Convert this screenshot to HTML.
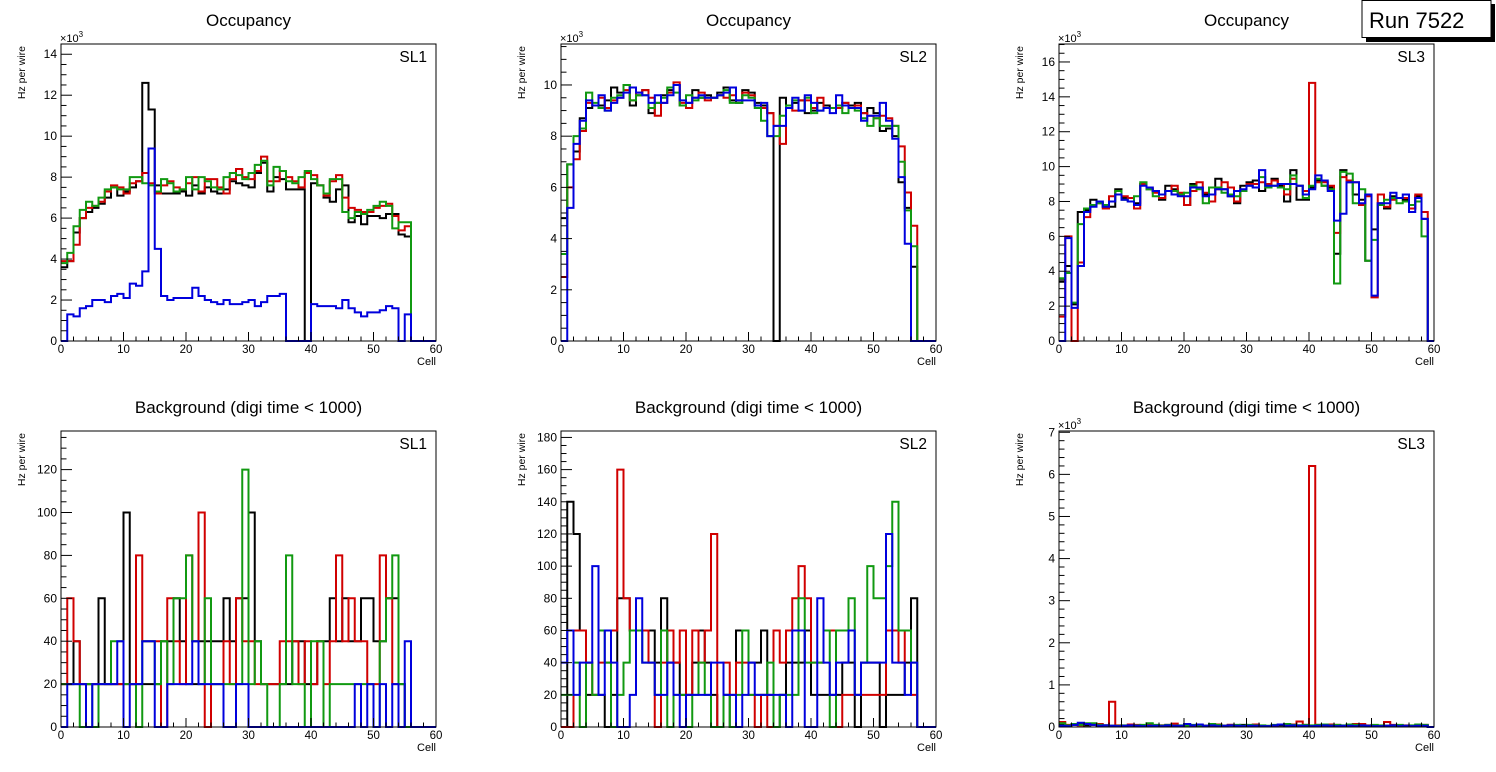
<!DOCTYPE html>
<html><head><meta charset="utf-8">
<style>
html,body{margin:0;padding:0;background:#fff;}
body{width:1496px;height:772px;overflow:hidden;position:relative;font-family:"Liberation Sans",Arial,sans-serif;}
svg{position:absolute;left:0;top:0;}
</style></head>
<body>
<svg id="chart" width="1496" height="772" viewBox="0 0 1496 772" xmlns="http://www.w3.org/2000/svg"></svg>
<script>
const cells = Array.from({length:60},(_,i)=>i);
const occSL1Black=[3.6,3.9,5.3,6.0,6.3,6.5,6.7,7.0,7.5,7.1,7.3,7.5,7.8,12.6,11.3,7.6,7.2,7.2,7.2,7.3,7.1,7.6,7.2,7.5,7.3,7.2,7.4,7.8,7.7,7.6,7.5,8.2,8.7,7.3,8.0,7.9,7.4,7.4,7.4,0,7.7,7.6,7.0,6.8,7.4,7.6,5.8,6.1,5.7,6.1,6.1,6.0,6.2,6.2,5.2,5.1,0,0,0,0];
const occSL1Red=[3.9,3.9,4.7,6.0,6.5,6.6,6.8,7.3,7.6,7.5,7.2,7.7,7.8,8.2,7.7,7.2,7.6,7.8,7.5,7.4,7.7,8.0,7.3,7.9,7.9,7.5,7.2,7.9,8.4,8.0,7.9,8.3,9.0,7.8,7.8,8.3,8.0,7.8,7.5,8.2,8.1,7.6,7.1,7.8,8.1,7.0,6.5,6.4,6.3,6.3,6.5,6.6,6.7,6.1,5.4,5.6,0,0,0,0];
const occSL1Green=[3.8,4.3,5.6,6.4,6.8,6.6,7.0,7.4,7.5,7.4,7.4,8.0,8.0,7.7,7.6,7.3,7.9,7.7,7.3,7.4,8.0,7.4,8.0,7.8,7.5,7.4,8.0,8.2,8.1,7.9,8.2,8.6,8.8,7.6,8.5,8.3,7.8,7.7,8.0,8.3,7.9,7.6,7.2,7.9,7.9,6.3,6.0,6.3,6.2,6.4,6.6,6.8,6.6,5.5,5.8,5.8,0,0,0,0];
const occSL1Blue=[0,1.3,1.2,1.6,1.7,2.0,2.0,1.9,2.2,2.3,2.1,2.8,2.7,3.4,9.4,4.5,2.2,2.0,2.1,2.1,2.1,2.6,2.2,2.0,1.9,1.8,2.0,1.8,1.8,1.9,2.0,1.7,1.9,2.2,2.2,2.3,0,0,0,0,1.8,1.7,1.7,1.7,1.6,2.0,1.6,1.4,1.2,1.4,1.4,1.5,1.7,1.6,0,1.3,0,0,0,0];
const occSL2Black=[4.8,6.9,7.4,8.7,9.1,9.2,9.2,9.4,9.9,9.7,10.0,9.2,9.6,9.8,8.9,9.3,9.6,9.8,10.0,9.2,9.3,9.8,9.5,9.6,9.5,9.7,9.9,9.4,9.3,9.8,9.7,9.3,9.2,8.9,0,9.5,9.1,9.3,9.4,8.9,9.0,9.3,9.2,9.1,9.1,9.3,9.2,9.3,8.9,9.1,8.9,8.2,8.3,8.0,6.2,5.2,2.9,0,0,0];
const occSL2Red=[2.5,6.0,7.1,8.2,9.3,9.2,9.5,9.1,9.4,9.5,9.8,9.4,9.7,9.8,9.5,8.8,9.3,9.7,10.1,9.3,9.1,9.5,9.7,9.4,9.5,9.6,9.5,9.6,9.4,9.7,9.6,9.2,9.1,8.9,8.4,7.7,9.2,9.0,9.4,9.4,9.1,9.5,9.1,9.1,9.1,9.3,9.1,9.2,8.9,8.8,8.7,8.8,8.7,8.4,7.6,5.8,4.5,0,0,0];
const occSL2Green=[3.4,6.9,8.0,8.3,9.7,9.3,9.1,9.0,9.5,9.6,10.0,9.4,9.6,9.6,9.1,9.3,9.5,9.9,9.7,9.2,9.6,9.4,9.5,9.5,9.5,9.6,9.8,9.3,9.3,9.6,9.5,9.1,8.6,8.0,8.0,8.8,9.2,9.4,9.0,9.5,8.9,9.0,9.1,9.1,9.2,8.9,9.1,9.0,8.7,8.4,8.7,8.4,8.4,8.4,7.0,5.1,3.7,0,0,0];
const occSL2Blue=[0,5.2,7.7,8.6,9.4,9.2,9.6,9.0,9.3,9.5,9.7,9.9,9.7,9.6,9.3,9.6,9.3,9.6,10.0,9.4,9.3,9.5,9.6,9.5,9.5,9.6,9.7,9.9,9.4,9.4,9.4,9.2,9.3,8.0,8.4,8.4,9.1,9.5,9.0,9.6,9.3,9.0,9.1,8.9,9.6,9.2,9.1,9.1,8.6,8.8,8.8,9.3,8.6,7.9,6.4,3.8,0,0,0,0];
const occSL3Black=[3.4,4.3,2.1,7.4,7.5,8.1,8.0,7.7,7.7,8.7,8.2,8.2,7.9,9.0,8.7,8.6,8.1,8.9,8.7,8.4,7.8,9.0,8.8,8.4,8.4,9.3,8.7,8.3,7.9,8.9,9.1,9.2,8.6,9.0,9.3,8.9,8.0,9.8,8.1,8.1,8.8,9.2,8.9,8.8,5.0,9.8,9.1,8.4,8.1,4.6,6.4,7.9,7.6,8.3,8.2,8.1,7.6,8.3,7.0,0];
const occSL3Red=[1.4,6.0,0,4.5,7.1,7.8,7.9,7.6,8.3,8.6,8.3,8.2,7.6,9.0,8.8,8.5,8.2,8.6,8.9,8.5,7.8,8.6,9.1,8.5,8.0,8.7,9.1,8.8,8.0,8.6,9.0,9.0,9.1,9.0,9.2,9.0,8.4,9.3,8.9,8.6,14.8,9.1,9.1,8.9,6.2,9.4,9.2,9.1,7.8,8.3,2.5,8.4,7.7,8.1,8.2,8.2,7.6,8.4,7.4,0];
const occSL3Green=[3.6,3.9,2.2,6.7,7.6,7.8,7.9,7.8,8.0,8.6,8.1,8.0,8.3,9.1,8.7,8.3,8.4,8.6,8.6,8.4,8.5,8.9,8.7,7.9,8.8,8.8,8.5,8.4,8.3,8.6,8.9,8.8,9.4,8.8,8.9,8.8,8.7,9.5,8.9,8.2,8.9,9.3,8.9,8.7,3.3,9.7,9.6,7.9,8.7,4.6,5.8,7.8,8.1,8.2,7.9,8.0,7.8,8.0,6.0,0];
const occSL3Blue=[0,5.9,1.9,4.3,7.4,7.7,8.0,7.7,8.0,8.4,8.1,8.0,7.8,8.9,8.8,8.6,8.4,8.6,8.4,8.3,8.3,8.8,8.8,8.3,8.4,8.7,8.7,8.3,8.6,8.7,8.9,8.8,9.8,8.9,8.9,9.0,9.0,9.0,8.9,8.4,8.7,9.5,9.2,8.6,6.9,7.3,9.1,9.1,7.9,8.4,2.6,7.9,7.9,8.5,8.2,8.4,7.4,8.2,7.0,0];
const bgSL1Black=[20,20,40,20,20,20,60,20,20,20,100,20,20,20,20,20,40,40,60,40,20,20,40,40,40,40,60,40,60,60,100,40,20,20,20,20,20,40,40,20,20,40,40,60,40,60,40,40,60,60,40,40,60,60,20,0,0,0,0,0];
const bgSL1Red=[20,60,40,20,20,20,20,20,20,20,20,20,80,40,40,40,0,60,40,20,80,40,100,0,20,20,40,20,60,40,40,20,20,20,20,40,40,40,20,40,20,40,20,40,80,40,60,40,40,20,20,80,60,20,0,0,0,0,0,0];
const bgSL1Green=[20,20,20,0,20,0,20,20,40,40,20,20,0,40,40,20,40,20,60,60,80,40,20,60,20,20,20,20,20,120,20,40,20,0,0,20,80,20,20,0,40,40,0,20,20,20,20,20,20,20,0,40,60,80,20,0,0,0,0,0];
const bgSL1Blue=[0,20,20,20,0,20,20,20,20,40,0,20,20,40,40,0,0,20,20,20,20,40,20,20,20,20,0,0,20,20,0,0,0,0,0,0,0,0,0,0,0,0,0,0,0,0,0,20,0,20,0,20,0,20,0,40,0,0,0,0];
const bgSL2Black=[0,140,120,60,20,20,20,0,20,80,80,60,60,60,60,40,80,40,40,20,20,40,60,40,20,0,20,0,60,60,40,40,60,20,0,20,40,40,40,60,20,20,20,20,20,40,40,0,40,40,40,0,20,20,20,40,80,0,0,0];
const bgSL2Red=[0,0,60,60,40,20,40,40,60,160,80,60,60,60,40,0,40,60,40,60,20,60,40,60,120,0,40,20,40,40,20,0,20,0,60,40,60,80,100,80,40,40,60,60,0,20,20,20,20,20,20,20,60,60,40,60,20,0,0,0];
const bgSL2Green=[20,20,40,0,40,20,60,40,0,20,40,60,60,40,40,20,60,0,20,20,0,20,40,20,0,0,20,0,20,60,20,20,20,40,0,20,20,20,80,40,40,40,60,0,60,60,80,20,40,100,80,80,100,140,60,60,40,0,0,0];
const bgSL2Blue=[40,60,20,40,40,100,20,60,40,0,0,20,80,40,40,20,20,40,20,0,20,20,20,20,40,40,20,20,0,20,40,20,20,20,20,20,0,60,60,0,0,80,40,20,40,40,60,20,40,40,40,40,120,40,40,20,40,0,0,0];
const bgSL3Black=[0.05,0.03,0.05,0.06,0.04,0.05,0.03,0.04,0.03,0.03,0.03,0.02,0.03,0.03,0.04,0.02,0.04,0.03,0.03,0.02,0.03,0.03,0.02,0.03,0.03,0.04,0.03,0.05,0.03,0.05,0.03,0.03,0.02,0.02,0.03,0.04,0.05,0.03,0.04,0.03,0.03,0.03,0.04,0.03,0.02,0.03,0.03,0.02,0.04,0.03,0.03,0.02,0.03,0.03,0.02,0.03,0.03,0.03,0.03,0];
const bgSL3Red=[0.12,0.05,0.07,0.04,0.08,0.05,0.07,0.04,0.6,0.04,0.02,0.06,0.05,0.04,0.06,0.04,0.03,0.05,0.08,0.03,0.02,0.04,0.05,0.03,0.03,0.06,0.03,0.05,0.04,0.02,0.04,0.06,0.03,0.02,0.04,0.06,0.04,0.06,0.13,0.05,6.2,0.05,0.04,0.06,0.05,0.03,0.04,0.07,0.07,0.04,0.03,0.03,0.12,0.05,0.03,0.04,0.03,0.05,0.05,0];
const bgSL3Green=[0.09,0.04,0.07,0.05,0.09,0.09,0.05,0.04,0.03,0.03,0.04,0.03,0.04,0.05,0.09,0.05,0.03,0.05,0.03,0.04,0.03,0.05,0.04,0.03,0.07,0.05,0.03,0.04,0.05,0.03,0.05,0.04,0.04,0.03,0.05,0.06,0.07,0.05,0.04,0.05,0.04,0.05,0.06,0.04,0.05,0.04,0.06,0.05,0.04,0.03,0.05,0.04,0.03,0.04,0.05,0.03,0.04,0.06,0.05,0];
const bgSL3Blue=[0.03,0.02,0.05,0.1,0.07,0.05,0.03,0.04,0.03,0.02,0.03,0.04,0.03,0.02,0.03,0.03,0.02,0.04,0.03,0.03,0.07,0.04,0.06,0.03,0.04,0.02,0.03,0.04,0.03,0.02,0.03,0.03,0.02,0.02,0.04,0.06,0.03,0.04,0.03,0.03,0.02,0.03,0.04,0.03,0.02,0.03,0.03,0.02,0.04,0.03,0.02,0.02,0.03,0.04,0.02,0.03,0.02,0.03,0.03,0];

const xTicks=[0,10,20,30,40,50,60];
const panels=[
 {name:'occupancy-sl1',title:'Occupancy',sl:'SL1',x0:61,x1:436,y0:44,y1:341,ymax:14.5,major:2,minor:0.5,exp:true,series:[occSL1Black,occSL1Red,occSL1Green,occSL1Blue]},
 {name:'occupancy-sl2',title:'Occupancy',sl:'SL2',x0:561,x1:936,y0:44,y1:341,ymax:11.6,major:2,minor:0.5,exp:true,series:[occSL2Black,occSL2Red,occSL2Green,occSL2Blue]},
 {name:'occupancy-sl3',title:'Occupancy',sl:'SL3',x0:1059,x1:1434,y0:44,y1:341,ymax:17.03,major:2,minor:0.5,exp:true,series:[occSL3Black,occSL3Red,occSL3Green,occSL3Blue]},
 {name:'background-sl1',title:'Background (digi time < 1000)',sl:'SL1',x0:61,x1:436,y0:431,y1:727,ymax:138,major:20,minor:5,exp:false,series:[bgSL1Black,bgSL1Red,bgSL1Green,bgSL1Blue]},
 {name:'background-sl2',title:'Background (digi time < 1000)',sl:'SL2',x0:561,x1:936,y0:431,y1:727,ymax:184,major:20,minor:5,exp:false,series:[bgSL2Black,bgSL2Red,bgSL2Green,bgSL2Blue]},
 {name:'background-sl3',title:'Background (digi time < 1000)',sl:'SL3',x0:1059,x1:1434,y0:431,y1:727,ymax:7.03,major:1,minor:0.2,exp:true,series:[bgSL3Black,bgSL3Red,bgSL3Green,bgSL3Blue]}
];
const colors=['#000000','#d00000','#119911','#0000dd'];
const colorNames=['black','red','green','blue'];
const NS='http://www.w3.org/2000/svg';
const svg=document.getElementById('chart');
function mk(tag,attrs,parent){const e=document.createElementNS(NS,tag);for(const k in attrs)e.setAttribute(k,attrs[k]);(parent||svg).appendChild(e);return e;}
function txt(s,attrs,parent){const e=mk('text',attrs,parent);e.textContent=s;return e;}

panels.forEach(p=>{
  const g=mk('g',{});
  
  
  const xs=v=>p.x0+(v/60)*(p.x1-p.x0);
  const ys=v=>p.y1-(v/p.ymax)*(p.y1-p.y0);
  const cx=(p.x0+p.x1)/2;
  const t=txt(p.title,{x:cx,y:p.y0-18,'text-anchor':'middle','font-size':17},g);
  
  
  p.series.forEach((arr,si)=>{
    let d='M'+xs(0)+','+ys(arr[0]);
    for(let i=0;i<arr.length;i++){
      if(i>0)d+=' V'+ys(arr[i]);
      d+=' H'+xs(cells[i]+1);
    }
    const path=mk('path',{d:d,fill:'none',stroke:colors[si],'stroke-width':2,'stroke-linejoin':'miter'},g);
    
    
  });
  const fr=mk('rect',{x:p.x0,y:p.y0,width:p.x1-p.x0,height:p.y1-p.y0,fill:'none',stroke:'#000','stroke-width':1},g);
  
  
  for(let v=0;v<=60;v+=2){
    const L=(v%10===0)?9:4.5;
    mk('line',{x1:xs(v),x2:xs(v),y1:p.y1,y2:p.y1-L,stroke:'#000','stroke-width':1},g);
  }
  xTicks.forEach(v=>{
    const l=txt(String(v),{x:xs(v),y:p.y1+12,'text-anchor':'middle','font-size':11.5},g);
    
    
  });
  const xl=txt('Cell',{x:p.x1,y:p.y1+24,'text-anchor':'end','font-size':11},g);
  
  
  const nMin=Math.floor(p.ymax/p.minor+1e-6);
  for(let k=0;k<=nMin;k++){
    const v=k*p.minor;
    const isMaj=Math.abs(v/p.major-Math.round(v/p.major))<1e-6;
    mk('line',{x1:p.x0,x2:p.x0+(isMaj?11:5.5),y1:ys(v),y2:ys(v),stroke:'#000','stroke-width':1},g);
    if(isMaj){
      const l=txt(String(Math.round(v)),{x:p.x0-4,y:ys(v)+4,'text-anchor':'end','font-size':12},g);
      
      
    }
  }
  if(p.exp){
    const e=mk('text',{x:p.x0-1,y:p.y0-2,'font-size':11},g);
    
    
    const t1=mk('tspan',{},e); t1.textContent='×10';
    const t2=mk('tspan',{'font-size':8,dy:-5},e); t2.textContent='3';
  }
  const yl=txt('Hz per wire',{x:0,y:0,'text-anchor':'end','font-size':10.5,transform:'translate('+(p.x0-36)+','+(p.y0+2)+') rotate(-90)'},g);
  
  
  const sl=txt(p.sl,{x:p.x1-9,y:p.y0+18,'text-anchor':'end','font-size':15.5},g);
  
  
});
const rb=mk('g',{});


mk('rect',{x:1366,y:4,width:129,height:38,fill:'#000'},rb);
mk('rect',{x:1362,y:0.5,width:129,height:37,fill:'#fff',stroke:'#000','stroke-width':1},rb);
const rt=txt('Run 7522',{x:1369,y:28,'font-size':22},rb);


</script>
</body></html>
